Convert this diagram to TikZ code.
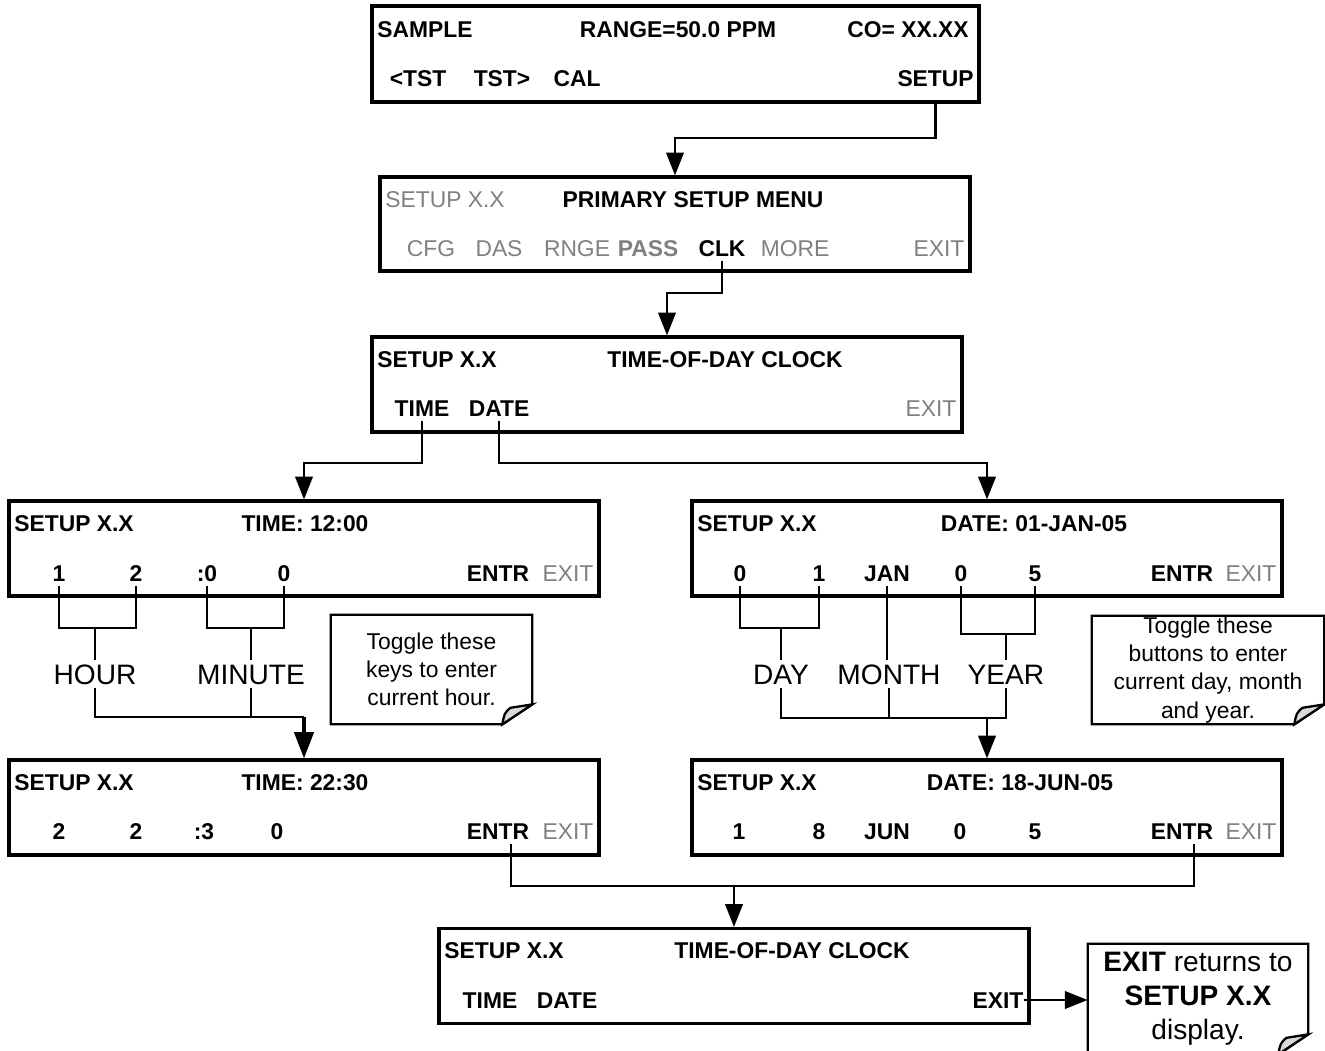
\documentclass[tikz,border=0pt]{standalone}
\usepackage{fontspec}
\setmainfont{Liberation Sans}
\usetikzlibrary{arrows.meta}

% note outline with a folded bottom right corner
\newcommand{\dogear}[1]{%
  \draw[notebox] (#1.north west) -- (#1.north east) -- ([yshift=0.4cm]#1.south east)
    -- ([xshift=-0.6cm]#1.south east) -- (#1.south west) -- cycle;
  \filldraw[notebox, fill=black!15] ([yshift=0.4cm]#1.south east) -- ([xshift=-0.6cm]#1.south east)
    .. controls ([xshift=-0.56cm,yshift=0.22cm]#1.south east) .. ([xshift=-0.44cm,yshift=0.33cm]#1.south east) -- cycle;
}

\begin{document}
\begin{tikzpicture}[
    x=0.02cm, y=-0.02cm,
    screen/.style={rectangle, draw=black, line width=1.8pt, minimum width=11.8cm, minimum height=1.9cm},
    key/.style={font=\fontsize{13}{15}\selectfont\bfseries, inner xsep=0pt, inner ysep=2.5pt, text height=9.4pt, text depth=0pt},
    dim/.style={key, font=\fontsize{13}{15}\selectfont, color=black!50},
    dimkey/.style={key, color=black!50},
    field/.style={font=\fontsize{16}{19}\selectfont, inner sep=2pt, text height=11.5pt, text depth=0pt},
    note/.style={font=\fontsize{13}{16}\selectfont, align=center, inner sep=0pt},
    notebox/.style={line width=1.3pt},
    link/.style={line width=1.3pt},
    arrow/.style={link, -{Triangle[length=13pt,width=10pt]}},
    bigarrow/.style={line width=2pt, -{Triangle[length=15pt,width=11pt]}}
]
\useasboundingbox (0,0) rectangle (1325,1051);

% Display screens
\node[screen, minimum width=12.14cm, minimum height=1.92cm] (main) at (675.5,54) {};
\node[screen, minimum height=1.88cm] (menu) at (675,224) {};
\node[screen] (clock) at (667,384.5) {};
\node[screen] (timeset) at (304,548.5) {};
\node[screen] (dateset) at (987,548.5) {};
\node[screen] (timenew) at (304,807.5) {};
\node[screen] (datenew) at (987,807.5) {};
\node[screen] (clockback) at (734,976) {};

% Sample display
\node[key, anchor=west] (sample) at (377,29) {SAMPLE};
\node[key] (range) at (678,29) {RANGE=50.0 PPM};
\node[key, anchor=east] (co) at (969,29) {CO= XX.XX};
\node[key] (tstl) at (418,78) {<TST};
\node[key] (tstr) at (502,78) {TST>};
\node[key] (cal) at (577,78) {CAL};
\node[key, anchor=east] (setup) at (974,78) {SETUP};

% Primary setup menu
\node[dim, anchor=west] (setup2) at (385,199) {SETUP X.X};
\node[key] (psm) at (693,199) {PRIMARY SETUP MENU};
\node[dim] (cfg) at (431,248) {CFG};
\node[dim] (das) at (499,248) {DAS};
\node[dim] (rnge) at (577,248) {RNGE};
\node[dimkey] (pass) at (648,248) {PASS};
\node[key] (clk) at (722,248) {CLK};
\node[dim] (more) at (795,248) {MORE};
\node[dim] (exit2) at (939,248) {EXIT};

% Time-of-day clock menu
\node[key, anchor=west] (setup3) at (377,359) {SETUP X.X};
\node[key] (tod3) at (725,359) {TIME-OF-DAY CLOCK};
\node[key] (time3) at (422,408) {TIME};
\node[key] (date3) at (499,408) {DATE};
\node[dim] (exit3) at (931,408) {EXIT};

% Time entry, old value
\node[key, anchor=west] (setup4) at (14,523) {SETUP X.X};
\node[key] (time4) at (305,523) {TIME: 12:00};
\node[key] (h1) at (59,573) {1};
\node[key] (h2) at (136,573) {2};
\node[key] (m1) at (207,573) {:0};
\node[key] (m2) at (284,573) {0};
\node[key] (entr4) at (498,573) {ENTR};
\node[dim] (exit4) at (568,573) {EXIT};

% Date entry, old value
\node[key, anchor=west] (setup5) at (697,523) {SETUP X.X};
\node[key] (date5) at (1034,523) {DATE: 01-JAN-05};
\node[key] (d1) at (740,573) {0};
\node[key] (d2) at (819,573) {1};
\node[key] (mon) at (887,573) {JAN};
\node[key] (y1) at (961,573) {0};
\node[key] (y2) at (1035,573) {5};
\node[key] (entr5) at (1182,573) {ENTR};
\node[dim] (exit5) at (1251,573) {EXIT};

% Time entry, new value
\node[key, anchor=west] (setup6) at (14,782) {SETUP X.X};
\node[key] (time6) at (305,782) {TIME: 22:30};
\node[key] (nh1) at (59,831) {2};
\node[key] (nh2) at (136,831) {2};
\node[key] (nm1) at (204,831) {:3};
\node[key] (nm2) at (277,831) {0};
\node[key] (entr6) at (498,831) {ENTR};
\node[dim] (exit6) at (568,831) {EXIT};

% Date entry, new value
\node[key, anchor=west] (setup7) at (697,782) {SETUP X.X};
\node[key] (date7) at (1020,782) {DATE: 18-JUN-05};
\node[key] (nd1) at (739,831) {1};
\node[key] (nd2) at (819,831) {8};
\node[key] (nmon) at (887,831) {JUN};
\node[key] (ny1) at (960,831) {0};
\node[key] (ny2) at (1035,831) {5};
\node[key] (entr7) at (1182,831) {ENTR};
\node[dim] (exit7) at (1251,831) {EXIT};

% Back at the clock menu
\node[key, anchor=west] (setup8) at (444,950) {SETUP X.X};
\node[key] (tod8) at (792,950) {TIME-OF-DAY CLOCK};
\node[key] (time8) at (490,1000) {TIME};
\node[key] (date8) at (567,1000) {DATE};
\node[key] (exit8) at (998,1000) {EXIT};

% Field names under the keys
\node[field] (hour) at (95,674) {HOUR};
\node[field] (minute) at (251,674) {MINUTE};
\node[field] (day) at (781,674) {DAY};
\node[field] (month) at (889,674) {MONTH};
\node[field] (year) at (1006,674) {YEAR};

% Notes
\node[note, minimum width=4.02cm, minimum height=2.18cm] (hournote) at (431.5,669.5) {Toggle these\\keys to enter\\current hour.};
\node[note, minimum width=4.64cm, minimum height=2.16cm] (datenote) at (1208,670) {Toggle these\\buttons to enter\\current day, month\\and year.};
\node[note, font=\fontsize{16}{19.3}\selectfont, minimum width=4.4cm, minimum height=2.2cm] (exitnote) at (1198,999) {{\bfseries EXIT} returns to\\{\bfseries SETUP X.X}\\display.};
\dogear{hournote}
\dogear{datenote}
\dogear{exitnote}

% Rails for the elbow connectors
\coordinate (r1) at (0,138);
\coordinate (r2) at (0,293);
\coordinate (r3) at (0,463);
\coordinate (hbar) at (0,628);
\coordinate (ybar) at (0,634);
\coordinate (hmrail) at (0,717);
\coordinate (dmyrail) at (0,718);
\coordinate (entrrail) at (0,886);
\coordinate (entr6key) at ([xshift=0.26cm]entr6.south);
\coordinate (entr7key) at ([xshift=0.24cm]entr7.south);

% Menu flow
\draw[arrow] (setup.south |- main.south) -- (setup.south |- r1) -| (menu.north);
\draw[arrow] (clk.south) -- (clk.south |- r2) -| (clock.north);
\draw[arrow] (time3.south) -- (time3.south |- r3) -| (timeset.north);
\draw[arrow] (date3.south) -- (date3.south |- r3) -| (dateset.north);

% Hour and minute key groups
\draw[link] (h1.south) -- (h1.south |- hbar) -| (h2.south);
\draw[link] (m1.south) -- (m1.south |- hbar) -| (m2.south);
\draw[link] (hour.north) -- (hour.north |- hbar);
\draw[link] (minute.north) -- (minute.north |- hbar);
\draw[link] (hour.south) |- (timenew.north |- hmrail);
\draw[link] (minute.south) -- (minute.south |- hmrail);
\draw[bigarrow] (timenew.north |- hmrail) -- (timenew.north);

% Day, month and year key groups
\draw[link] (d1.south) -- (d1.south |- hbar) -| (d2.south);
\draw[link] (day.north) -- (day.north |- hbar);
\draw[link] (mon.south) -- (mon.south |- month.north);
\draw[link] (y1.south) -- (y1.south |- ybar) -| (y2.south);
\draw[link] (year.north) -- (year.north |- ybar);
\draw[link] (day.south) -- (day.south |- dmyrail) -| (year.south);
\draw[link] (month.south) -- (month.south |- dmyrail);
\draw[arrow] (datenew.north |- dmyrail) -- (datenew.north);

% ENTR returns to the clock menu
\draw[link] (entr6key) -- (entr6key |- entrrail) -| (entr7key);
\draw[arrow] (clockback.north |- entrrail) -- (clockback.north);
\draw[arrow] (exit8.east) -- (exit8.east -| exitnote.west);

\end{tikzpicture}
\end{document}
